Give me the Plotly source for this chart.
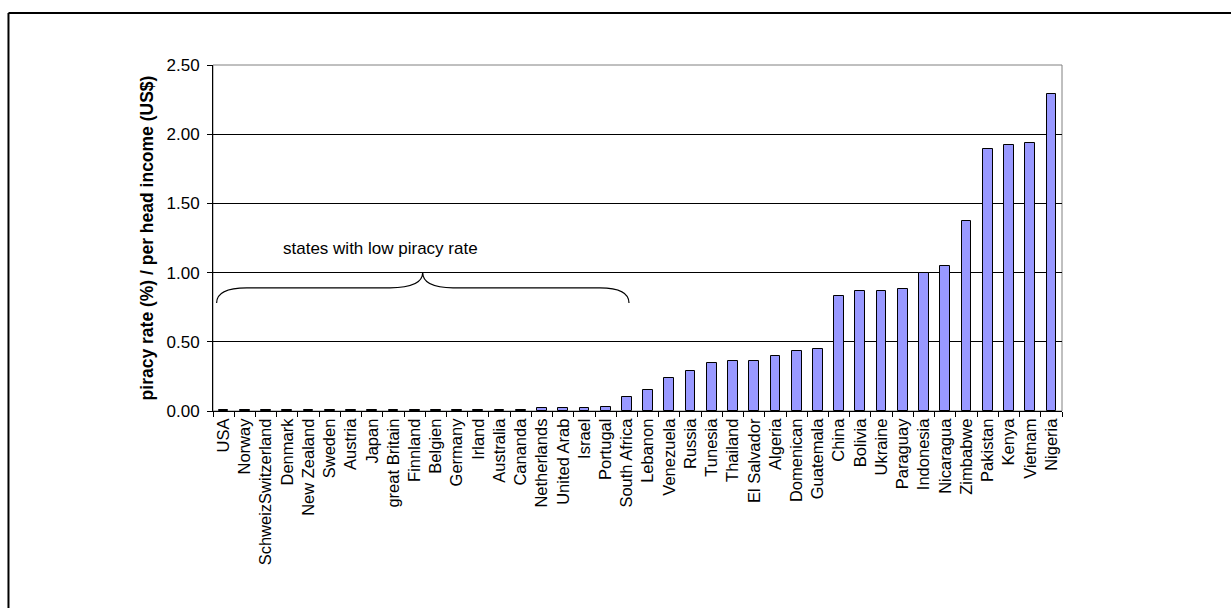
import plotly.graph_objects as go

# Countries ordered by piracy rate relative to per-head income
countries = [
    "USA", "Norway", "SchweizSwitzerland", "Denmark", "New Zealand", "Sweden",
    "Austria", "Japan", "great Britain", "Finnland", "Belgien", "Germany",
    "Irland", "Australia", "Cananda", "Netherlands", "United Arab", "Israel",
    "Portugal", "South Africa", "Lebanon", "Venezuela", "Russia", "Tunesia",
    "Thailand", "El Salvador", "Algeria", "Domenican", "Guatemala", "China",
    "Bolivia", "Ukraine", "Paraguay", "Indonesia", "Nicaragua", "Zimbabwe",
    "Pakistan", "Kenya", "Vietnam", "Nigeria",
]
ratio = [
    0.01, 0.01, 0.01, 0.01, 0.01, 0.01,
    0.01, 0.01, 0.01, 0.01, 0.01, 0.01,
    0.01, 0.01, 0.01, 0.02, 0.02, 0.02,
    0.03, 0.10, 0.15, 0.24, 0.29, 0.35,
    0.36, 0.36, 0.40, 0.43, 0.45, 0.83,
    0.87, 0.87, 0.88, 1.00, 1.05, 1.37,
    1.89, 1.92, 1.94, 2.29,
]
y_ticks = [0.0, 0.5, 1.0, 1.5, 2.0, 2.5]

FONT = "Liberation Sans, Arial, sans-serif"

fig = go.Figure(
    go.Bar(
        x=countries,
        y=ratio,
        width=0.46,
        marker=dict(color="#9999FF", line=dict(color="#000000", width=1)),
        hoverinfo="x+y",
    )
)

# Curly brace spanning the low-piracy group (category index units on x)
brace = (
    "M -0.33,0.78 Q -0.33,0.89 1.09,0.89 L 7.84,0.89 "
    "Q 9.38,0.89 9.38,1.0 Q 9.38,0.89 10.81,0.89 "
    "L 17.73,0.89 Q 19.10,0.89 19.10,0.78"
)

fig.update_layout(
    width=1231,
    height=608,
    margin=dict(l=213, r=169, t=65, b=197),
    paper_bgcolor="white",
    plot_bgcolor="white",
    font=dict(family=FONT, size=17, color="#000000"),
    showlegend=False,
    bargap=0,
    shapes=[
        # plot area border
        dict(type="rect", xref="paper", yref="paper", x0=0, y0=0, x1=1, y1=1,
             line=dict(color="#808080", width=1), layer="below"),
        # outer chart frame: left and top edges
        dict(type="line", xref="paper", yref="paper",
             x0=-0.2409, y0=1.1503, x1=-0.2409, y1=-0.7,
             line=dict(color="#000000", width=2)),
        dict(type="line", xref="paper", yref="paper",
             x0=-0.2409, y0=1.1503, x1=1.3, y1=1.1503,
             line=dict(color="#000000", width=2)),
        dict(type="path", xref="x", yref="y", path=brace,
             line=dict(color="#000000", width=1.2)),
    ],
    annotations=[
        dict(x=7.39, y=1.177, xref="x", yref="y", text="states with low piracy rate",
             showarrow=False, xanchor="center", yanchor="middle",
             font=dict(family=FONT, size=17, color="#000000")),
    ],
)

fig.update_xaxes(
    type="category",
    range=[-0.5, len(countries) - 0.5],
    tickmode="linear", tick0=0, dtick=1,
    tickson="boundaries",
    ticks="outside", ticklen=5, tickcolor="#000000", tickwidth=1,
    tickangle=-90,
    tickfont=dict(family=FONT, size=16.5, color="#000000"),
    showline=True, linecolor="#000000", linewidth=1,
    showgrid=False, zeroline=False,
    fixedrange=True,
)

fig.update_yaxes(
    range=[0, 2.5],
    tickmode="array", tickvals=y_ticks,
    tickformat=".2f",
    ticks="outside", ticklen=5, tickcolor="#000000", tickwidth=1,
    ticklabelstandoff=4,
    tickfont=dict(family=FONT, size=17, color="#000000"),
    showline=True, linecolor="#000000", linewidth=1,
    showgrid=True, gridcolor="#000000", gridwidth=1,
    zeroline=False,
    title=dict(text="<b>piracy rate (%) / per head income (US$)</b>",
               font=dict(family=FONT, size=17.5, color="#000000"), standoff=8),
    fixedrange=True,
)

fig.write_html("out.html")
